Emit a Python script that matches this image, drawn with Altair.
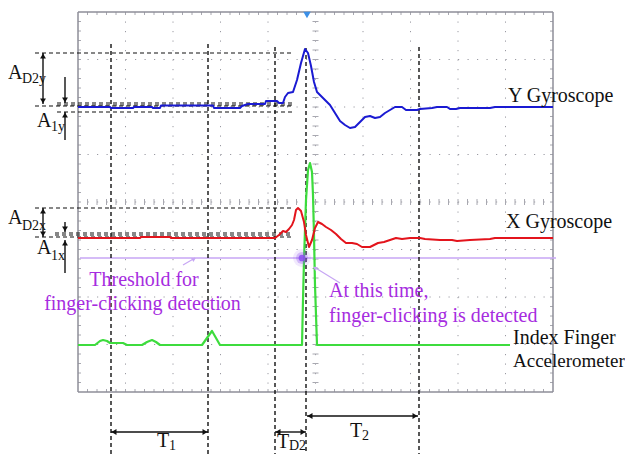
import altair as alt
import pandas as pd

# Coordinates are positions on the figure (x to the right, y downwards)
W, H = 617, 446
X0, Y0 = 8, 8

FRAME_L, FRAME_R, FRAME_T, FRAME_B = 78, 553, 12, 392
DIV = 47.5
MINOR = 9.5

# ---- signals ---------------------------------------------------------------
blue_x = [78, 110, 111, 133, 134, 152, 153, 160, 161, 213, 214, 240, 242, 248, 265, 266, 277, 279,
          283, 285, 288, 293, 297, 301, 305, 308, 311, 314, 317, 323, 330, 335, 340, 345, 350, 355,
          360, 365, 370, 375, 380, 385, 390, 395, 402, 406, 417, 420, 432, 437, 447, 450, 456, 460,
          490, 495, 553]
blue_y = [107, 107, 108, 108, 107, 107, 108, 108, 105.5, 105.5, 108, 108, 106, 104, 104, 101, 101, 103,
          103, 97, 93, 92, 80, 63, 49, 53, 66, 82, 92, 98, 105, 113, 121, 125, 128, 127,
          122, 117, 116, 118, 117, 113, 110, 107, 107, 110, 110, 109, 108, 107, 107, 109, 109, 108,
          108, 107, 107]

red_x = [78, 140, 141, 170, 171, 275, 279, 283, 286, 289, 292, 294, 296, 298, 301, 304, 306, 309,
         312, 315, 318, 322, 326, 331, 336, 341, 346, 352, 357, 362, 370, 374, 378, 384, 390, 396,
         402, 410, 420, 425, 440, 452, 457, 470, 490, 495, 553]
red_y = [238, 238, 237, 237, 238, 238, 235, 231, 232, 229, 225, 220, 210, 208, 211, 222, 235, 247,
         240, 228, 222, 224, 227, 230, 234, 239, 243, 243, 244, 247, 247, 245, 243, 242, 240, 238,
         239, 238, 238, 239, 240, 240, 241, 240, 239, 238, 238]

green_x = [78, 95, 100, 103, 107, 110, 123, 127, 142, 147, 152, 156, 160, 202, 207, 212, 216, 220,
           302, 303, 304, 306, 308, 310, 312, 313, 314, 315, 317, 510]
green_y = [345, 345, 341, 340, 341, 343, 343, 345, 345, 342, 340, 342, 345, 345, 338, 331, 338, 345,
           345, 300, 260, 200, 170, 163, 172, 195, 235, 285, 345, 345]

threshold_y = 258
threshold_x = [80, 556]

# ---- annotation geometry ------------------------------------------------------
hdash = pd.DataFrame({
    "x":  [35, 57, 57, 35, 57, 35, 55, 55, 35],
    "x2": [293, 293, 293, 293, 293, 293, 293, 293, 293],
    "y":  [53, 103, 105, 106, 112, 208, 233, 235, 237],
})
hdash["y2"] = hdash["y"]

vdash = pd.DataFrame({
    "x":  [111, 208, 275, 306, 419],
    "y":  [44, 44, 47, 48, 47],
    "y2": [462, 462, 462, 462, 462],
})
vdash["x2"] = vdash["x"]

shafts = pd.DataFrame({
    "x":  [43, 65, 65, 43, 65, 65, 111, 275, 307],
    "x2": [43, 65, 65, 43, 65, 65, 208, 306, 418],
    "y":  [53, 77, 140, 208, 222, 273, 432, 432, 416],
    "y2": [104, 103, 112, 237, 232, 240, 432, 432, 416],
})

heads = pd.DataFrame({
    "x": [43, 43, 65, 65, 43, 43, 65, 65, 114, 205, 278, 303, 310, 415],
    "y": [56, 101, 100, 115, 211, 234, 229, 243, 432, 432, 432, 432, 416, 416],
    "shape": ["triangle-up", "triangle-down", "triangle-down", "triangle-up",
              "triangle-up", "triangle-down", "triangle-down", "triangle-up",
              "triangle-left", "triangle-right", "triangle-left", "triangle-right",
              "triangle-left", "triangle-right"],
})

big_labels = pd.DataFrame({
    "text": ["Y Gyroscope", "X Gyroscope", "Index Finger",
             "A", "A", "A", "A", "T", "T", "T"],
    "x": [508, 506, 513, 8, 37, 8, 37, 157, 350, 277],
    "y": [102, 228, 344, 79, 127, 224, 254, 447, 437, 448],
})
edge_labels = pd.DataFrame({"text": ["Accelerometer"], "x": [513], "y": [367]})
sub_labels = pd.DataFrame({
    "text": ["D2y", "1y", "D2x", "1x", "1", "2", "D2"],
    "x": [22, 51, 22, 51, 169, 362, 289],
    "y": [83, 131, 230, 260, 450, 440, 450],
})
purple_labels = pd.DataFrame({
    "text": ["Threshold for", "finger-clicking detection"],
    "x": [144, 142.5],
    "y": [286, 310],
})
purple_labels2 = pd.DataFrame({
    "text": ["At this time,", "finger-clicking is detected"],
    "x": [329, 329],
    "y": [297, 322],
})

pointer_lines = pd.DataFrame({"x": [340, 183], "y": [283, 265], "x2": [314, 195], "y2": [267, 258]})
pointer_heads = pd.DataFrame({"x": [315, 194], "y": [268, 259], "angle": [302, 59]})

glow = pd.DataFrame({"x": [302, 302, 302], "y": [258, 258, 258],
                     "s": [320, 140, 45], "o": [0.12, 0.3, 0.85]})

marker = pd.DataFrame({"x": [307], "y": [15]})

# ---- scales ----------------------------------------------------------------------------
xs = alt.Scale(domain=[X0, X0 + W], nice=False, zero=False)
ys = alt.Scale(domain=[Y0, Y0 + H], nice=False, zero=False, reverse=True)


def X(f="x"):
    return alt.X(f"{f}:Q", scale=xs, axis=None)


def Y(f="y"):
    return alt.Y(f"{f}:Q", scale=ys, axis=None)


def rules(df, color, width=1.0, dash=None, opacity=1.0):
    kw = dict(color=color, strokeWidth=width, opacity=opacity)
    if dash:
        kw["strokeDash"] = dash
    return alt.Chart(df).mark_rule(**kw).encode(
        x=X("x"), y=Y("y"), x2=alt.X2("x2:Q"), y2=alt.Y2("y2:Q"))


def line(xv, yv, color, width):
    df = pd.DataFrame({"x": xv, "y": yv, "i": list(range(len(xv)))})
    return alt.Chart(df).mark_line(color=color, strokeWidth=width, strokeJoin="round").encode(
        x=X("x"), y=Y("y"), order="i:Q")


def texts(df, size, color, align="left"):
    return alt.Chart(df).mark_text(font="Liberation Serif", fontSize=size, color=color,
                                   align=align, baseline="alphabetic").encode(
        x=X("x"), y=Y("y"), text="text:N")


# ---- oscilloscope grid ---------------------------------------------------------------------
grid_v = [FRAME_L + DIV * k for k in range(1, 10)]
grid_h = [FRAME_T + DIV * k for k in range(1, 8)]
cx = FRAME_L + DIV * 5
cy = FRAME_T + DIV * 4
minor_x = [FRAME_L + MINOR * k for k in range(1, 50)]
minor_y = [FRAME_T + MINOR * k for k in range(1, 40)]

grid_df = pd.DataFrame(
    [{"x": gx, "x2": gx, "y": FRAME_T, "y2": FRAME_B} for gx in grid_v] +
    [{"x": FRAME_L, "x2": FRAME_R, "y": gy, "y2": gy} for gy in grid_h])

tick_rows = []
for mx in minor_x:
    tick_rows.append({"x": mx, "x2": mx, "y": FRAME_T, "y2": FRAME_T + 3})
    tick_rows.append({"x": mx, "x2": mx, "y": FRAME_B - 3, "y2": FRAME_B})
    tick_rows.append({"x": mx, "x2": mx, "y": cy - 3, "y2": cy + 3})
for my in minor_y:
    tick_rows.append({"x": FRAME_L, "x2": FRAME_L + 3, "y": my, "y2": my})
    tick_rows.append({"x": FRAME_R - 3, "x2": FRAME_R, "y": my, "y2": my})
    tick_rows.append({"x": cx - 3, "x2": cx + 3, "y": my, "y2": my})
ticks_df = pd.DataFrame(tick_rows)

frame_df = pd.DataFrame([
    {"x": FRAME_L, "x2": FRAME_R, "y": FRAME_T, "y2": FRAME_T},
    {"x": FRAME_L, "x2": FRAME_R, "y": FRAME_B, "y2": FRAME_B},
    {"x": FRAME_L, "x2": FRAME_L, "y": FRAME_T, "y2": FRAME_B},
    {"x": FRAME_R, "x2": FRAME_R, "y": FRAME_T, "y2": FRAME_B},
])

LAV = "#c7a6f4"
PURPLE = "#a62ce0"

layers = [
    rules(grid_df, "#9a9aa2", 1.0, [1.2, 8.3]),
    rules(ticks_df, "#a8a8b0", 1.0),
    rules(frame_df, "#8e8e98", 1.5),
    rules(pd.DataFrame({"x": [threshold_x[0]], "x2": [threshold_x[1]],
                        "y": [threshold_y], "y2": [threshold_y]}), LAV, 1.6),
    rules(vdash, "#111111", 1.4, [4, 3]),
    rules(hdash, "#111111", 1.2, [4, 3]),
    line(green_x, green_y, "#3ddc3d", 2.2),
    line(red_x, red_y, "#e3141c", 2.0),
    line(blue_x, blue_y, "#1a1ad2", 2.0),
    alt.Chart(glow).mark_circle(color="#8a4cf0").encode(
        x=X("x"), y=Y("y"), size=alt.Size("s:Q", scale=None), opacity=alt.Opacity("o:Q", scale=None)),
    rules(shafts, "#111111", 1.4),
    alt.Chart(heads).mark_point(filled=True, color="#111111", opacity=1, size=34).encode(
        x=X("x"), y=Y("y"), shape=alt.Shape("shape:N", scale=None)),
    rules(pointer_lines, LAV, 1.2),
    alt.Chart(pointer_heads).mark_point(filled=True, color=LAV, opacity=1, size=22, shape="triangle-up").encode(
        x=X("x"), y=Y("y"), angle=alt.Angle("angle:Q", scale=None)),
    alt.Chart(marker).mark_point(filled=True, color="#3c8fe6", opacity=1, size=55, shape="triangle-down").encode(
        x=X("x"), y=Y("y")),
    texts(big_labels, 20, "#111111"),
    texts(edge_labels, 19, "#111111"),
    texts(sub_labels, 14, "#111111"),
    texts(purple_labels, 20, PURPLE, align="center"),
    texts(purple_labels2, 20, PURPLE),
]

chart = alt.layer(*layers).properties(
    width=W, height=H, padding=0, autosize="none", background="white"
).configure_view(stroke=None)

chart.save("out.html", embed_options={"renderer": "svg", "actions": False})
